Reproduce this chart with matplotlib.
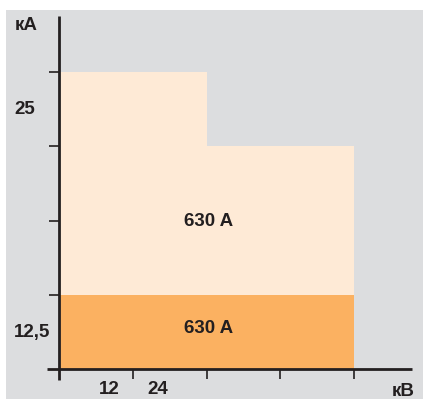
import matplotlib
matplotlib.use("Agg")
import matplotlib.pyplot as plt
from matplotlib.patches import Rectangle

plt.rcParams['font.family'] = ['Liberation Sans', 'DejaVu Sans']
plt.rcParams['font.weight'] = 'bold'

# --- data (schematic units: one grid step per tick) ---
band_x = [0, 2, 4]          # voltage steps along x
upper_tops = [4, 3]         # top of light band for each step
lower_top = 1               # top of dark band
band_labels = ["630 A", "630 A"]
x_tick_pos = [1, 2, 3, 4]
y_tick_pos = [1, 2, 3, 4]
x_labels = ["12", "24"]
y_labels = ["25", "12,5"]
x_unit, y_unit = "кВ", "кА"

W, H = 423, 399
ink = "#231f20"
gray = "#dcdddf"
light = "#feead6"
dark = "#fbb161"

fig = plt.figure(figsize=(W / 100, H / 100), dpi=100)
fig.patch.set_facecolor("white")

def px(x, y):
    return x / W, 1 - y / H

# gray panel behind the chart
fig.patches.append(Rectangle(px(6, H), (W - 6) / W, (H - 10) / H,
                             transform=fig.transFigure, facecolor=gray,
                             edgecolor="none", zorder=-5))

x0, y0 = 59, 369
ux, uy = 73.75, 74.25
ax = fig.add_axes([x0 / W, (H - y0) / H, (412 - x0) / W, (y0 - 16) / H])
ax.set_zorder(2)
ax.set_xlim(0, (412 - x0) / ux)
ax.set_ylim(0, (y0 - 16) / uy)
ax.patch.set_alpha(0)
for s in ax.spines.values():
    s.set_visible(False)

fs = 13.5

# bands
for i in range(len(upper_tops)):
    ax.add_patch(Rectangle((band_x[i], lower_top), band_x[i + 1] - band_x[i],
                           upper_tops[i] - lower_top, facecolor=light,
                           edgecolor="none"))
ax.add_patch(Rectangle((band_x[0], 0), band_x[-1] - band_x[0], lower_top,
                       facecolor=dark, edgecolor="none"))

ax.text(band_x[-1] / 2 + 0.03, 1.98, band_labels[0], ha="center", va="center",
        fontsize=fs, color=ink)
ax.text(band_x[-1] / 2 + 0.03, lower_top * 0.55, band_labels[1], ha="center",
        va="center", fontsize=fs, color=ink)

# axis lines
ax.plot([0, 0], [-0.15, ax.get_ylim()[1]], color=ink, lw=2, clip_on=False,
        solid_capstyle="butt")
ax.plot([-0.16, ax.get_xlim()[1]], [0, 0], color=ink, lw=2, clip_on=False,
        solid_capstyle="butt")

ax.set_xticks(x_tick_pos)
ax.set_yticks(y_tick_pos)
ax.tick_params(axis="both", direction="out", length=7, width=1.2,
               color=ink, labelbottom=False, labelleft=False)

# labels
fig.text(*px(109, 390), x_labels[0], ha="center", va="center", fontsize=fs, color=ink)
fig.text(*px(158, 390), x_labels[1], ha="center", va="center", fontsize=fs, color=ink)
fig.text(*px(14, 109), y_labels[0], ha="left", va="center", fontsize=fs, color=ink)
fig.text(*px(14, 333), y_labels[1], ha="left", va="center", fontsize=fs, color=ink)
fig.text(*px(15, 26), y_unit, ha="left", va="center", fontsize=fs, color=ink)
fig.text(*px(392, 391), x_unit, ha="left", va="center", fontsize=fs, color=ink)

fig.savefig("out.png", dpi=100)
